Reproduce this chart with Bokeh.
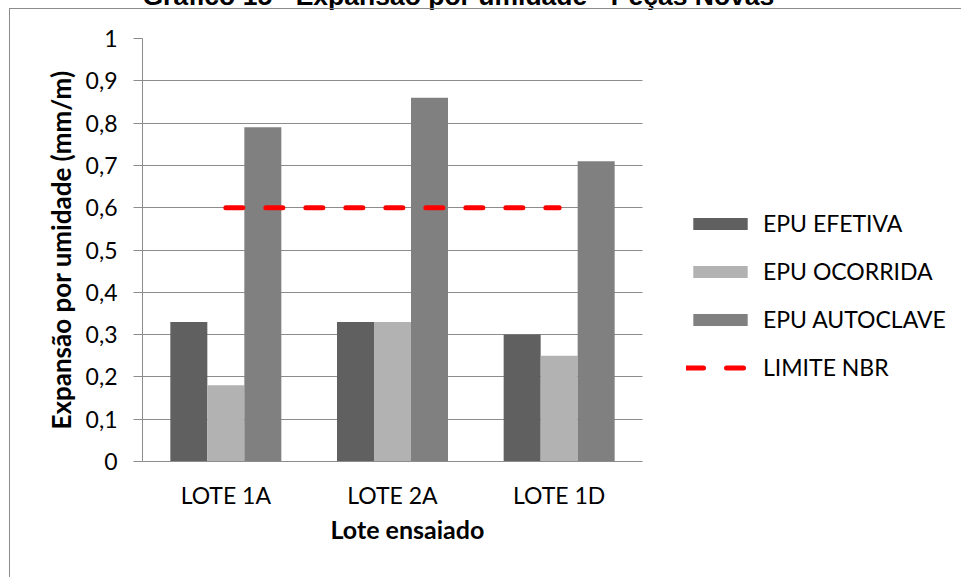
from bokeh.plotting import figure
from bokeh.models import (ColumnDataSource, Range1d, FixedTicker, Legend,
                          LegendItem, Title, InlineStyleSheet, Grid)
from bokeh.transform import dodge
from bokeh.embed import file_html
from bokeh.resources import INLINE

# --- data -------------------------------------------------------------
lotes = ["LOTE 1A", "LOTE 2A", "LOTE 1D"]
epu_efetiva = [0.33, 0.33, 0.30]
epu_ocorrida = [0.18, 0.33, 0.25]
epu_autoclave = [0.79, 0.86, 0.71]
limite_nbr = [0.6, 0.6, 0.6]

y_ticks = [0.0, 0.1, 0.2, 0.3, 0.4, 0.5, 0.6, 0.7, 0.8, 0.9, 1.0]
y_tick_labels = ["0", "0,1", "0,2", "0,3", "0,4", "0,5", "0,6", "0,7", "0,8", "0,9", "1"]

# category slots: lote i occupies [i, i+1] on the x axis
x_pos = [i + 0.5 for i in range(len(lotes))]
n_cat = len(lotes)

source = ColumnDataSource(dict(
    x=x_pos,
    lote=lotes,
    efetiva=epu_efetiva,
    ocorrida=epu_ocorrida,
    autoclave=epu_autoclave,
    limite=limite_nbr,
))

GRID = "#8c8c8c"
FONT = "Lato"
HEAD_STANDOFF = 52  # gap between heading and plot area
SHIFT = 48          # canvas rows hidden above the page top (heading runs off the top)
W, H = 961, 577
LEFT, TOP, BOTTOM = 142, 38, 116
PLOT_W = 500        # pixel width of the category area; the legend sits to its right

frame_w = W - LEFT
p = figure(
    x_range=Range1d(0, n_cat * frame_w / PLOT_W),
    y_range=Range1d(0, 1),
    width=W, height=H + SHIFT,
    min_border_left=LEFT, min_border_right=0,
    min_border_top=TOP + SHIFT, min_border_bottom=BOTTOM,
    output_backend="svg", toolbar_location=None,
)
p.outline_line_color = None
p.background_fill_color = "white"
p.border_fill_color = "white"

# horizontal grid limited to the category area
if "cross_bounds" in Grid.properties():
    p.xgrid.grid_line_color = None
    p.ygrid.ticker = FixedTicker(ticks=y_ticks)
    p.ygrid.grid_line_color = GRID
    p.ygrid.cross_bounds = (0, n_cat)
else:
    p.xgrid.grid_line_color = None
    p.ygrid.grid_line_color = None
    p.segment(x0=[0] * len(y_ticks), x1=[n_cat] * len(y_ticks),
              y0=y_ticks, y1=y_ticks, line_color=GRID, line_width=1)

# grouped bars
bw = 0.222
r_ef = p.vbar(x=dodge("x", -bw), top="efetiva", width=bw,
              source=source, fill_color="#606060", line_color=None)
r_oc = p.vbar(x=dodge("x", 0.0), top="ocorrida", width=bw,
              source=source, fill_color="#b2b2b2", line_color=None)
r_au = p.vbar(x=dodge("x", bw), top="autoclave", width=bw,
              source=source, fill_color="#808080", line_color=None)

# NBR limit line
r_lim = p.line(x="x", y="limite", source=source, line_color="#ff0000",
               line_width=5, line_dash="17 23", line_cap="round")

# y axis
p.yaxis.ticker = FixedTicker(ticks=y_ticks)
p.yaxis.major_label_overrides = {t: s for t, s in zip(y_ticks, y_tick_labels)}
p.yaxis.axis_line_color = GRID
p.yaxis.major_tick_line_color = GRID
p.yaxis.major_tick_out = 9
p.yaxis.major_tick_in = 0
p.yaxis.minor_tick_line_color = None
p.yaxis.major_label_standoff = 16
p.yaxis.major_label_text_font = FONT
p.yaxis.major_label_text_font_size = "23px"
p.yaxis.major_label_text_color = "black"
p.yaxis.axis_label = "Expansão por umidade (mm/m)"
p.yaxis.axis_label_text_font = FONT
p.yaxis.axis_label_text_font_style = "bold"
p.yaxis.axis_label_text_font_size = "26px"
p.yaxis.axis_label_text_color = "black"
p.yaxis.axis_label_standoff = 6

# x axis (category names at slot centres)
p.xaxis.ticker = FixedTicker(ticks=x_pos)
p.xaxis.major_label_overrides = {x: s for x, s in zip(x_pos, lotes)}
p.xaxis.bounds = (0, n_cat)
p.xaxis.axis_line_color = GRID
p.xaxis.major_tick_line_color = None
p.xaxis.minor_tick_line_color = None
p.xaxis.major_label_standoff = 13
p.xaxis.major_label_text_font = FONT
p.xaxis.major_label_text_font_size = "23px"
p.xaxis.major_label_text_color = "black"

# x-axis title
p.add_layout(Title(text="Lote ensaiado", align="left", offset=188, standoff=0,
                   text_font=FONT, text_font_style="bold", text_font_size="25px",
                   text_color="black"), "below")

# chart heading
p.add_layout(Title(text="Gráfico 15 - Expansão por umidade - Peças Novas",
                   align="left", offset=0, standoff=HEAD_STANDOFF, vertical_align="top",
                   text_font="Liberation Sans", text_font_style="bold",
                   text_font_size="26.5px", text_color="black"), "above")

legend = Legend(
    items=[
        LegendItem(label="EPU EFETIVA", renderers=[r_ef]),
        LegendItem(label="EPU OCORRIDA", renderers=[r_oc]),
        LegendItem(label="EPU AUTOCLAVE", renderers=[r_au]),
        LegendItem(label="LIMITE NBR", renderers=[r_lim]),
    ],
    location=(544, 80),
    glyph_width=68, glyph_height=15, label_height=28, spacing=20,
    label_standoff=9, padding=0, margin=0,
    border_line_color=None, background_fill_alpha=0,
    label_text_font=FONT, label_text_font_size="23px", label_text_color="black",
)
p.add_layout(legend, "center")

# page placement and chart-area frame (left and top edges)
p.styles = {"margin-top": f"-{SHIFT}px"}
p.stylesheets = [InlineStyleSheet(css=f"""
:host::after {{
  content: '';
  position: absolute;
  left: 9px; top: {8 + SHIFT}px; right: 0; bottom: 0;
  border-left: 1px solid #8c8c8c;
  border-top: 1px solid #8c8c8c;
  pointer-events: none;
}}
""")]

open("out.html", "w").write(file_html(p, INLINE))
